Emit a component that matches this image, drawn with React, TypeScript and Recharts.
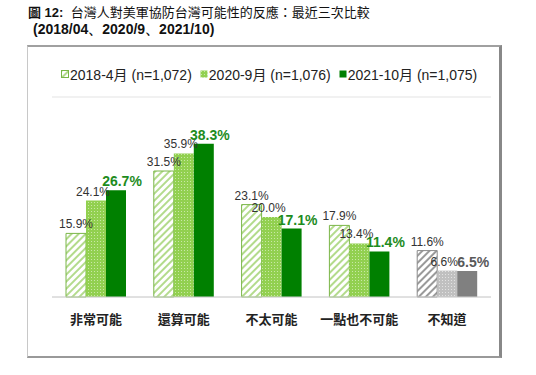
import React from 'react';
import { BarChart, Bar, XAxis, YAxis, CartesianGrid, LabelList, Cell } from 'recharts';

const categories = ['非常可能', '還算可能', '不太可能', '一點也不可能', '不知道'];
const s2018 = [15.9, 31.5, 23.1, 17.9, 11.6];
const s2020 = [24.1, 35.9, 20.0, 13.4, 6.6];
const s2021 = [26.7, 38.3, 17.1, 11.4, 6.5];
const seriesNames = ['2018-4月 (n=1,072)', '2020-9月 (n=1,076)', '2021-10月 (n=1,075)'];
const yTicks = [0, 10, 20, 30, 40, 50];

const data = categories.map((c, i) => ({ name: c, a: s2018[i], b: s2020[i], c: s2021[i] }));

const LATIN = '"Liberation Sans", Arial, sans-serif';
const CJK = '"Liberation Sans", "Noto Sans CJK TC", sans-serif';

// 最後一類(不知道)用灰色
const isGray = (i: number) => i === categories.length - 1;

const makeLabel = (big: boolean, dx: number, gap: number) => (props: any) => {
  const { x, y, width, value, index } = props;
  const fill = big ? (isGray(index) ? '#595959' : '#1e8c1e') : '#333';
  return (
    <text
      x={x + width / 2 + dx}
      y={y - gap}
      textAnchor="middle"
      fontFamily={LATIN}
      fontSize={big ? 14 : 12}
      fontWeight={big ? 700 : 400}
      fill={fill}
    >
      {`${Number(value).toFixed(1)}%`}
    </text>
  );
};

function Patterns() {
  return (
    <svg width={0} height={0} style={{ position: 'absolute' }}>
      <defs>
        <pattern id="hatchG" width={5} height={5} patternUnits="userSpaceOnUse" patternTransform="rotate(45)">
          <rect width={5} height={5} fill="#fff" />
          <rect x={0} y={0} width={2} height={5} fill="#b3db8c" />
        </pattern>
        <pattern id="hatchGray" width={5} height={5} patternUnits="userSpaceOnUse" patternTransform="rotate(45)">
          <rect width={5} height={5} fill="#fff" />
          <rect x={0} y={0} width={2} height={5} fill="#9a9a9a" />
        </pattern>
        <pattern id="dotG" width={3} height={3} patternUnits="userSpaceOnUse">
          <rect width={3} height={3} fill="#92d050" />
          <rect x={1} y={1} width={1} height={1} fill="#c8e8a6" />
        </pattern>
        <pattern id="dotGray" width={3} height={3} patternUnits="userSpaceOnUse">
          <rect width={3} height={3} fill="#c0c0c0" />
          <rect x={1} y={1} width={1} height={1} fill="#e2e2e2" />
        </pattern>
      </defs>
    </svg>
  );
}

const legendIcons = ['url(#hatchG)', 'url(#dotG)', '#008000'];

export default function App() {
  return (
    <div style={{ position: 'absolute', left: 0, top: 0, width: 536, height: 375, background: '#fff', overflow: 'hidden' }}>
      <Patterns />
      <div style={{ position: 'absolute', left: 28, top: 5, lineHeight: '15px', fontFamily: CJK, fontSize: 13, color: '#111', whiteSpace: 'nowrap' }}>
        <b>圖 12:</b>&nbsp; 台灣人對美軍協防台灣可能性的反應：最近三次比較
      </div>
      <div style={{ position: 'absolute', left: 33, top: 21, lineHeight: '16px', fontFamily: LATIN, fontSize: 14, fontWeight: 700, color: '#111', whiteSpace: 'nowrap' }}>
        (2018/04、2020/9、2021/10)
      </div>
      <div
        style={{
          position: 'absolute',
          left: 27,
          top: 45,
          width: 471,
          height: 309,
          borderLeft: '1px solid #c8c8c8',
          borderTop: '2px solid #a0a0a0',
          borderRight: '3px solid #888',
          borderBottom: '2px solid #999',
        }}
      />
      <div style={{ position: 'absolute', left: 61, top: 64, display: 'flex', alignItems: 'center', fontFamily: CJK, fontSize: 14, color: '#222', whiteSpace: 'nowrap' }}>
        {seriesNames.map((n, i) => (
          <span key={n} style={{ display: 'flex', alignItems: 'center', marginRight: 8 }}>
            <svg width={8} height={8} style={{ marginRight: 1 }}>
              <rect x={0.5} y={0.5} width={7} height={7} fill={legendIcons[i]} stroke={i === 0 ? '#7ab648' : 'none'} />
            </svg>
            {n}
          </span>
        ))}
      </div>
      <div style={{ position: 'absolute', left: 0, top: 0 }}>
        <BarChart
          width={536}
          height={375}
          data={data}
          margin={{ top: 97, left: 52, right: 45, bottom: 48 }}
          barSize={20}
          barGap={0}
        >
          <CartesianGrid vertical={false} stroke="#e3e3e3" />
          <YAxis yAxisId="l" domain={[0, 50]} ticks={yTicks} width={0} tick={false} tickLine={false} axisLine={{ stroke: '#d0d0d0' }} />
          <YAxis yAxisId="r" orientation="right" domain={[0, 50]} ticks={yTicks} width={0} tick={false} tickLine={false} axisLine={{ stroke: '#d0d0d0' }} />
          <XAxis
            dataKey="name"
            height={30}
            tickLine={false}
            axisLine={{ stroke: '#d0d0d0' }}
            interval={0}
            tick={{ fontFamily: CJK, fontSize: 13, fontWeight: 700, fill: '#222' }}
            dy={10}
          />
          <Bar yAxisId="l" dataKey="a" isAnimationActive={false} strokeWidth={1}>
            {data.map((d, i) => (
              <Cell key={d.name} fill={isGray(i) ? 'url(#hatchGray)' : 'url(#hatchG)'} stroke={isGray(i) ? '#8a8a8a' : '#7ab648'} />
            ))}
            <LabelList dataKey="a" content={makeLabel(false, 0, 5)} />
          </Bar>
          <Bar yAxisId="l" dataKey="b" isAnimationActive={false}>
            {data.map((d, i) => (
              <Cell key={d.name} fill={isGray(i) ? 'url(#dotGray)' : 'url(#dotG)'} />
            ))}
            <LabelList dataKey="b" content={makeLabel(false, -3, 5)} />
          </Bar>
          <Bar yAxisId="l" dataKey="c" isAnimationActive={false}>
            {data.map((d, i) => (
              <Cell key={d.name} fill={isGray(i) ? '#808080' : '#008000'} />
            ))}
            <LabelList dataKey="c" content={makeLabel(true, 6, 4)} />
          </Bar>
        </BarChart>
      </div>
    </div>
  );
}
